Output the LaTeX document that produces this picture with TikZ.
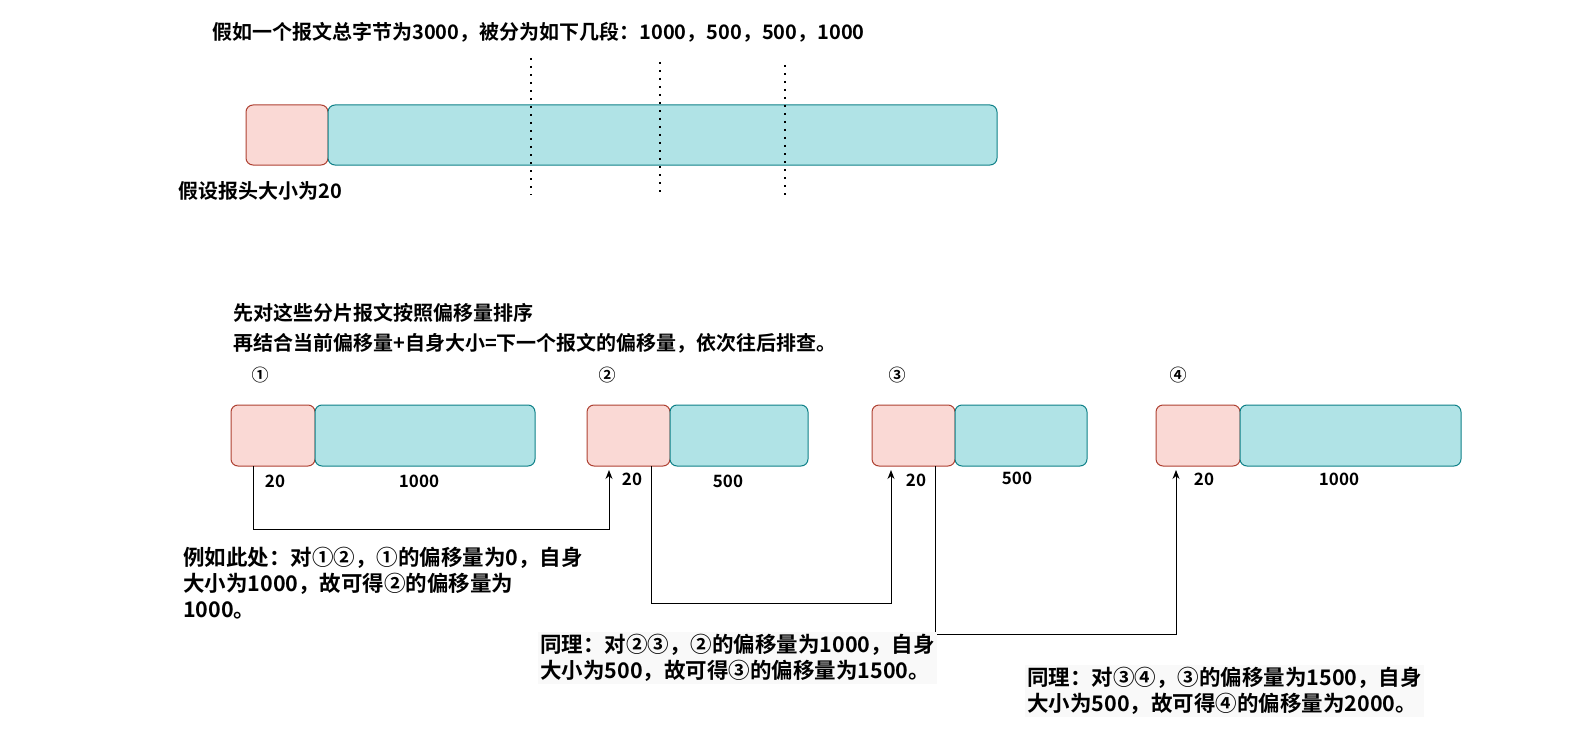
\documentclass[tikz,border=0pt]{standalone}
\usepackage{fontspec}
\setmainfont{Noto Sans CJK SC Bold}
\usetikzlibrary{arrows.meta}
\definecolor{pk}{HTML}{FAD9D5}\definecolor{pkb}{HTML}{AE4132}
\definecolor{cy}{HTML}{B0E3E6}\definecolor{cyb}{HTML}{0E8088}
\begin{document}
\begin{tikzpicture}[x=1pt,y=-1pt,
 hd/.style={draw=pkb,fill=pk,rounded corners=7pt,line width=1pt},
 bd/.style={draw=cyb,fill=cy,rounded corners=7pt,line width=1pt},
 tx/.style={font=\fontsize{20}{24}\selectfont,anchor=west,inner sep=0pt,align=left},
 lb/.style={font=\fontsize{17}{20}\selectfont,inner sep=0pt},
 cmt/.style={tx,font=\fontsize{21.5}{26}\selectfont},
 dl/.style={line width=2pt,dash pattern=on 2pt off 6pt},
 ar/.style={line width=1pt,-{Stealth[length=9pt,width=7pt]}}]
\useasboundingbox (0,0) rectangle (1579,741);
\node[tx] (t1) at (212,32) {假如一个报文总字节为3000，被分为如下几段：1000，500，500，1000};
\draw[hd] (246,105) rectangle (328,165);
\draw[bd] (328,105) rectangle (997,165);
\draw[dl] (531,58) -- (531,195);
\draw[dl] (660,62) -- (660,195);
\draw[dl] (785,65) -- (785,198);
\node[tx] (t2) at (178,191) {假设报头大小为20};
\node[tx] (t3) at (233,313) {先对这些分片报文按照偏移量排序};
\node[tx] (t4) at (233,343) {再结合当前偏移量+自身大小=下一个报文的偏移量，依次往后排查。};
\node[lb] at (260,375) {①};\node[lb] at (607,375) {②};
\node[lb] at (897,375) {③};\node[lb] at (1178,375) {④};
\draw[hd] (231,405) rectangle (315,466);\draw[bd] (315,405) rectangle (535,466);
\draw[hd] (587,405) rectangle (670,466);\draw[bd] (670,405) rectangle (808,466);
\draw[hd] (872,405) rectangle (955,466);\draw[bd] (955,405) rectangle (1087,466);
\draw[hd] (1156,405) rectangle (1240,466);\draw[bd] (1240,405) rectangle (1461,466);
\node[lb] at (275,481) {20};\node[lb] at (419,481) {1000};
\node[lb] at (632,479) {20};\node[lb] at (728,481) {500};
\node[lb] at (916,480) {20};\node[lb] at (1017,478) {500};
\node[lb] at (1204,479) {20};\node[lb] at (1339,479) {1000};
\draw[ar] (253,466) |- (609,529) -- (609,470);
\draw[ar] (651,466) |- (891,603) -- (891,470);
\draw[ar] (935,466) |- (1176,634) -- (1176,470);
\node[cmt] (t5) at (183,583) {例如此处：对①②，①的偏移量为0，自身\\大小为1000，故可得②的偏移量为\\1000。};
\node[cmt,fill=gray!5,inner sep=2pt] (t6) at (538,658) {同理：对②③，②的偏移量为1000，自身\\大小为500，故可得③的偏移量为1500。};
\node[cmt,fill=gray!5,inner sep=2pt] (t7) at (1025,691) {同理：对③④，③的偏移量为1500，自身\\大小为500，故可得④的偏移量为2000。};
\end{tikzpicture}
\end{document}
